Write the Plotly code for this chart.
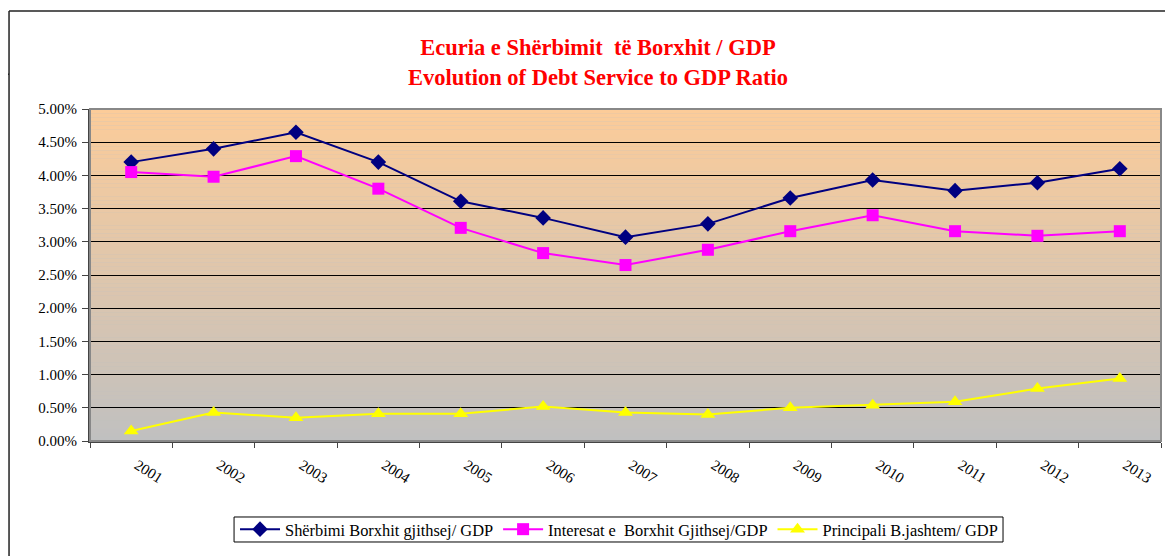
import plotly.graph_objects as go

years = ["2001", "2002", "2003", "2004", "2005", "2006", "2007",
         "2008", "2009", "2010", "2011", "2012", "2013"]

# values in percent of GDP
sherbimi = [4.20, 4.40, 4.65, 4.20, 3.61, 3.36, 3.07, 3.27, 3.66, 3.93, 3.77, 3.89, 4.10]
interesat = [4.05, 3.98, 4.29, 3.80, 3.21, 2.83, 2.65, 2.88, 3.16, 3.40, 3.16, 3.09, 3.16]
principali = [0.15, 0.43, 0.35, 0.41, 0.41, 0.52, 0.43, 0.40, 0.50, 0.54, 0.59, 0.79, 0.94]

SERIF = "Liberation Serif, Times New Roman, serif"

fig = go.Figure()

fig.add_trace(go.Scatter(
    x=years, y=sherbimi, mode="lines+markers",
    name="Shërbimi Borxhit gjithsej/ GDP",
    line=dict(color="#000080", width=2),
    marker=dict(symbol="diamond", size=12, color="#000080"),
))
fig.add_trace(go.Scatter(
    x=years, y=interesat, mode="lines+markers",
    name="Interesat e  Borxhit Gjithsej/GDP",
    line=dict(color="#FF00FF", width=2),
    marker=dict(symbol="square", size=12, color="#FF00FF"),
))
fig.add_trace(go.Scatter(
    x=years, y=principali, mode="lines+markers",
    name="Principali B.jashtem/ GDP",
    line=dict(color="#FFFF00", width=2),
    marker=dict(symbol="triangle-up", size=13, color="#FFFF00"),
))

# vertical gradient background: peach at top to grey at bottom
shapes = []
n = 80
top = (252, 204, 153)
bot = (192, 192, 192)
for i in range(n):
    t = (i + 0.5) / n
    c = tuple(round(bot[k] + (top[k] - bot[k]) * t) for k in range(3))
    shapes.append(dict(
        type="rect", xref="x domain", yref="y domain",
        x0=0, x1=1, y0=i / n, y1=(i + 1) / n,
        fillcolor="rgb(%d,%d,%d)" % c, line=dict(width=0), layer="below",
    ))
# plot area border (top/right)
shapes.append(dict(type="rect", xref="x domain", yref="y domain",
                   x0=0, x1=1, y0=0, y1=1,
                   line=dict(color="#888888", width=2), layer="above"))
# outer chart frame (left and top edges visible)
shapes.append(dict(type="line", xref="paper", yref="paper",
                   x0=-0.0756, x1=-0.0756, y0=1.295, y1=-0.4,
                   line=dict(color="#222222", width=1.5)))
shapes.append(dict(type="line", xref="paper", yref="paper",
                   x0=-0.0756, x1=1.02, y0=1.295, y1=1.295,
                   line=dict(color="#222222", width=1.5)))
shapes.append(dict(type="line", xref="paper", yref="paper",
                   x0=-0.082, x1=-0.0756, y0=1.105, y1=1.105,
                   line=dict(color="#222222", width=1.5)))
# legend box (drawn as a shape for a tighter frame)
shapes.append(dict(type="rect", xref="paper", yref="paper",
                   x0=0.1345, x1=0.8525, y0=-0.2289, y1=-0.3042,
                   fillcolor="white", line=dict(color="black", width=1),
                   layer="below"))

# page body has an 8px margin, so the figure is offset by it
fig.update_layout(
    width=1165, height=560,
    margin=dict(l=82, r=12, t=101, b=127),
    paper_bgcolor="white",
    plot_bgcolor="#C0C0C0",
    shapes=shapes,
    title=dict(
        text="<b>Ecuria e Shërbimit  të Borxhit / GDP<br>Evolution of Debt Service to GDP Ratio</b>",
        x=0.5064, xanchor="center", y=0.9155, yanchor="top",
        font=dict(family=SERIF, size=22.5, color="#FF0000"),
    ),
    font=dict(family=SERIF, size=14, color="black"),
    legend=dict(
        orientation="h", x=0.1354, xanchor="left", y=-0.2666, yanchor="middle",
        borderwidth=0, bgcolor="rgba(0,0,0,0)", itemwidth=40,
        font=dict(family=SERIF, size=16.4),
    ),
    showlegend=True,
)

fig.update_yaxes(
    range=[0, 5], dtick=0.5, tickformat=".2f", ticksuffix="%",
    showgrid=True, gridcolor="black", gridwidth=1,
    showline=True, linecolor="#444444", linewidth=2,
    ticks="outside", ticklen=6, tickcolor="#444444",
    ticklabelstandoff=2,
    zeroline=False, tickfont=dict(family=SERIF, size=15),
)
fig.update_xaxes(
    type="category", range=[-0.5, 12.5], tickangle=32, tickson="boundaries",
    ticks="outside", ticklen=5, tickcolor="#444444",
    ticklabelstandoff=8, ticklabelshift=6,
    showline=True, linecolor="#444444", linewidth=2,
    showgrid=False, tickfont=dict(family=SERIF, size=15),
)

fig.write_html("out.html")
